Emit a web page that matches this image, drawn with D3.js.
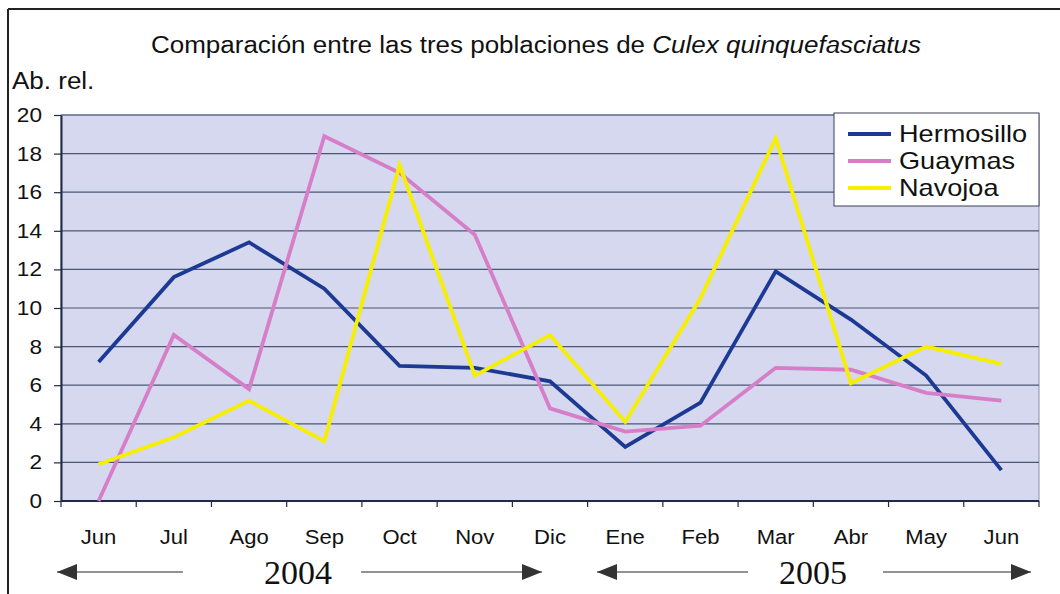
<!DOCTYPE html>
<html>
<head>
<meta charset="utf-8">
<script src="https://d3js.org/d3.v7.min.js"></script>
<style>
  body { margin: 0; background: #fff; }
  text { font-family: "Liberation Sans", Arial, sans-serif; fill: #111; }
</style>
</head>
<body>
<svg id="chart" width="1060" height="594"></svg>
<script>
// data
var months = ["Jun","Jul","Ago","Sep","Oct","Nov","Dic","Ene","Feb","Mar","Abr","May","Jun"];
var hermosillo = [7.2, 11.6, 13.4, 11.0, 7.0, 6.9, 6.2, 2.8, 5.1, 11.9, 9.4, 6.5, 1.6];
var guaymas    = [0.0, 8.6, 5.8, 18.9, 17.0, 13.8, 4.8, 3.6, 3.9, 6.9, 6.8, 5.6, 5.2];
var navojoa    = [1.9, 3.3, 5.2, 3.1, 17.4, 6.5, 8.6, 4.1, 10.5, 18.8, 6.1, 8.0, 7.1];
var seriesNames = ["Hermosillo", "Guaymas", "Navojoa"];
var yTicks = [0, 2, 4, 6, 8, 10, 12, 14, 16, 18, 20];
var years = ["2004", "2005"];

var colors = ["#1c3a94", "#d67fc8", "#f7ef00"];
var seriesData = [hermosillo, guaymas, navojoa];

var svg = d3.select("#chart");
var pLeft = 61, pRight = 1039, pTop = 115, pBottom = 501;
// the scanned chart is a bit wider than tall, so sans text gets stretched
var stretch = 1.13;

// index based x so the repeated "Jun" gets its own slot
var x = d3.scaleBand()
  .domain(d3.range(months.length))
  .range([pLeft, pRight])
  .padding(0);
var y = d3.scaleLinear()
  .domain([0, 20])
  .range([pBottom, pTop]);

// outer frame (left + top only, like the scan)
svg.append("line").attr("x1", 8).attr("x2", 8).attr("y1", 9).attr("y2", 594)
  .attr("stroke", "#222").attr("stroke-width", 2);
svg.append("line").attr("x1", 8).attr("x2", 1060).attr("y1", 9).attr("y2", 9)
  .attr("stroke", "#222").attr("stroke-width", 2);

// plot background
svg.append("rect")
  .attr("x", pLeft).attr("y", pTop)
  .attr("width", pRight - pLeft).attr("height", pBottom - pTop)
  .attr("fill", "#d5d8ee")
  .attr("stroke", "#8a90a8").attr("stroke-width", 1);

// gridlines
svg.append("g").selectAll("line")
  .data(yTicks.filter(function(d){ return d > 0; }))
  .enter().append("line")
  .attr("x1", pLeft).attr("x2", pRight)
  .attr("y1", function(d){ return y(d); })
  .attr("y2", function(d){ return y(d); })
  .attr("stroke", "#4a5674").attr("stroke-width", 1.2);

// y axis
var yAxis = svg.append("g")
  .attr("transform", "translate(" + pLeft + ",0)")
  .call(d3.axisLeft(y).tickValues(yTicks).tickSize(7).tickSizeOuter(0).tickPadding(12));
yAxis.select(".domain").attr("stroke", "#1e2a48").attr("stroke-width", 2);
yAxis.selectAll(".tick line").attr("stroke", "#1e2a48").attr("stroke-width", 1.2);
yAxis.selectAll(".tick text").classed("sx", true)
  .attr("fill", "#111")
  .style("font-size", "20px")
  .style("font-family", "'Liberation Sans', Arial, sans-serif");

// x axis: ticks at band boundaries, labels at band centres
var xAxisG = svg.append("g");
xAxisG.append("line")
  .attr("x1", pLeft).attr("x2", pRight).attr("y1", pBottom).attr("y2", pBottom)
  .attr("stroke", "#1e2a48").attr("stroke-width", 2);
xAxisG.selectAll("line.tk")
  .data(d3.range(months.length + 1))
  .enter().append("line").attr("class", "tk")
  .attr("x1", function(i){ return i < months.length ? x(i) : pRight; })
  .attr("x2", function(i){ return i < months.length ? x(i) : pRight; })
  .attr("y1", pBottom).attr("y2", pBottom + 6)
  .attr("stroke", "#1e2a48").attr("stroke-width", 1.2);
xAxisG.selectAll("text")
  .data(months)
  .enter().append("text")
  .attr("class", "sx")
  .attr("x", function(d, i){ return x(i) + x.bandwidth() / 2; })
  .attr("y", 544)
  .attr("text-anchor", "middle")
  .style("font-size", "19.5px")
  .text(function(d){ return d; });

// lines
var line = d3.line()
  .x(function(d, i){ return x(i) + x.bandwidth() / 2; })
  .y(function(d){ return y(d); });

svg.append("g").selectAll("path")
  .data(seriesData)
  .enter().append("path")
  .attr("d", function(d){ return line(d); })
  .attr("fill", "none")
  .attr("stroke", function(d, i){ return colors[i]; })
  .attr("stroke-width", 3.8)
  .attr("stroke-linejoin", "miter");

// legend
var lg = svg.append("g");
lg.append("rect")
  .attr("x", 834).attr("y", 113).attr("width", 205).attr("height", 93)
  .attr("fill", "#fff").attr("stroke", "#3a4058").attr("stroke-width", 1);
seriesNames.forEach(function(name, i){
  var ly = 134 + i * 27;
  lg.append("line")
    .attr("x1", 848).attr("x2", 891).attr("y1", ly).attr("y2", ly)
    .attr("stroke", colors[i]).attr("stroke-width", 3.8);
  lg.append("text")
    .attr("class", "sx")
    .attr("x", 899).attr("y", ly + 8)
    .style("font-size", "24px")
    .text(name);
});

// title and y label
var title = svg.append("text")
  .attr("class", "sx")
  .attr("x", 536).attr("y", 53)
  .attr("text-anchor", "middle")
  .style("font-size", "23px");
title.append("tspan").text("Comparación entre las tres poblaciones de ");
title.append("tspan").style("font-style", "italic").text("Culex quinquefasciatus");

svg.append("text")
  .attr("class", "sx")
  .attr("x", 12).attr("y", 89)
  .style("font-size", "23px")
  .text("Ab. rel.");

// year arrows
var arrows = [
  { x1: 57, x2: 183, dir: -1 },
  { x1: 361, x2: 542, dir: 1 },
  { x1: 597, x2: 748, dir: -1 },
  { x1: 883, x2: 1031, dir: 1 }
];
var ay = 572;
arrows.forEach(function(a){
  svg.append("line")
    .attr("x1", a.x1).attr("x2", a.x2).attr("y1", ay).attr("y2", ay)
    .attr("stroke", "#2a2a2a").attr("stroke-width", 1);
  var tip = a.dir < 0 ? a.x1 : a.x2;
  var base = tip - a.dir * 20;
  svg.append("path")
    .attr("d", "M" + tip + "," + ay + "L" + base + "," + (ay - 8) + "L" + base + "," + (ay + 8) + "Z")
    .attr("fill", "#333");
});
svg.selectAll("text.year")
  .data(years)
  .enter().append("text")
  .attr("class", "year")
  .attr("x", function(d, i){ return i === 0 ? 298 : 813; })
  .attr("y", 584)
  .attr("text-anchor", "middle")
  .style("font-family", "'Liberation Serif', 'Times New Roman', serif")
  .style("font-size", "34px")
  .text(function(d){ return d; });

// widen sans texts to match the scan
svg.selectAll("text.sx").each(function(){
  var w = this.getComputedTextLength();
  d3.select(this)
    .attr("textLength", w * stretch)
    .attr("lengthAdjust", "spacingAndGlyphs");
});
</script>
</body>
</html>
